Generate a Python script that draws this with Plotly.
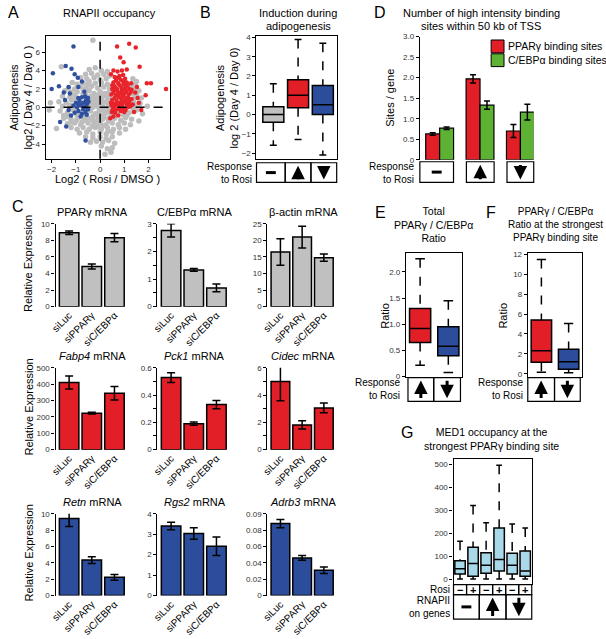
import plotly.graph_objects as go

W, H = 606, 639
FONT = 'Liberation Sans, Arial, sans-serif'
RED = '#e21f26'
BLUE = '#2c4d9c'
GRAY = '#c0c0c0'
GREEN = '#5db233'
LBLUE = '#a9d9e8'

# ---- A: RNAPII occupancy scatter ----
gray_x = [-0.45, -0.2, 0.05, 0.3, -0.6, -0.35, -0.1, 0.15, 0.38, -0.8, -0.55, -0.25, 0.0, 0.25, 1.35, -1.6, -0.3,
          -1.15, -0.95, -0.7, -0.45, -0.2, 0.05, 0.3, 1.3, 1.5, -1.3, -1.05, -0.82, -0.58, -0.35, -0.1, 0.15, 0.38, 1.38, -0.7,
          -1.45, -1.2, -0.95, -0.7, -0.45, -0.25, 0.0, 0.22, 0.4, 1.35, 1.6, -1.55, -1.25, -1.05, -0.38, -0.15, 0.1, 0.3, 1.45, 1.7, -0.6,
          -1.7, -1.4, -1.18, -0.4, -0.2, 0.05, 0.25, 0.42, 1.38, 1.65, -1.55, -1.25, -0.35, -0.12, 0.1, 0.35, 1.35, 1.55, 1.95, -2.05,
          -1.65, -1.35, -1.1, -0.4, -0.2, 0.05, 0.25, 0.45, 0.7, 0.95, 1.2, 1.5, 1.75, -2.1, -0.95, -0.6, -0.3, 0.1, 0.3, 1.1,
          -1.5, -1.2, -0.9, -0.65, -0.4, -0.15, 0.1, 0.35, 0.6, 0.85, 1.05, 1.3, 1.6, -1.35, -1.05, -0.8, -0.5, -0.25, 0.0, 0.25, 0.5, 0.75, 1.0, 1.25,
          -1.2, -0.95, -0.7, -0.45, -0.2, 0.05, 0.3, 0.55, 0.8, 1.05, -1.8, -0.85, -0.55, -0.3, 0.0, 0.25, 0.5, 0.8,
          -0.6, -0.3, 0.0, 0.25, 0.5, -0.15, 0.1, 0.35, 0.05, 0.3, 0.5, 0.2, 0.45, 0.6, -0.4,
          -1.15, -0.9, -0.6, -0.85, -1.0, -0.5, -0.3, -0.05, 0.2, 0.42, -0.1, 0.15,
          -0.05, 0.12, 0.28, -0.28, -0.48, -0.18, 0.08, 0.32, -0.4, -0.02, 0.18, 0.4, -0.3, -0.08, 0.15, 0.36,
          -0.32, -0.1, 0.12, 0.33, 1.3, 1.45, 1.32, 1.5, 1.4, 1.28, -1.35, -1.5, -1.2, -0.98, -0.75, -0.55]
gray_y = [4.1, 4.3, 4.0, 3.9, 3.6, 3.7, 3.5, 3.6, 3.4, 3.2, 3.1, 3.2, 3.0, 3.1, 3.1, 4.4, 7.3,
          2.7, 2.5, 2.6, 2.8, 2.6, 2.7, 2.5, 2.4, 2.8, 2.1, 2.0, 2.3, 2.1, 2.3, 2.1, 2.2, 2.0, 2.0, 1.9,
          1.8, 1.6, 1.7, 1.5, 1.8, 1.5, 1.7, 1.5, 1.8, 1.5, 1.8, 1.2, 1.1, 1.3, 1.2, 1.0, 1.2, 1.0, 1.2, 1.0, 1.4,
          0.6, 0.5, 0.8, 0.7, 0.5, 0.8, 0.6, 0.9, 0.7, 0.4, 0.1, 0.2, 0.2, 0.1, 0.3, 0.1, -0.1, 0.2, 0.1, 0.5,
          -0.4, -0.6, -0.3, -0.4, -0.7, -0.3, -0.6, -0.8, -0.7, -0.8, -0.6, -0.3, -0.7, -0.3, -0.9, -0.95, -1.0, -0.9, -0.2, -0.9,
          -1.2, -1.3, -1.1, -1.4, -1.2, -1.5, -1.3, -1.5, -1.2, -1.4, -1.1, -1.3, -1.5, -1.8, -1.7, -1.9, -1.7, -1.9, -1.7, -1.9, -1.7, -1.9, -1.7, -1.9,
          -2.2, -2.4, -2.2, -2.4, -2.2, -2.4, -2.2, -2.4, -2.2, -2.4, -2.3, -2.8, -2.7, -2.9, -2.7, -2.9, -2.7, -2.8,
          -3.2, -3.3, -3.2, -3.4, -3.2, -3.7, -3.8, -3.6, -4.2, -4.5, -4.4, -5.1, -4.9, -3.9, -3.8,
          -0.1, 0.4, 0.1, -0.5, 1.0, 2.5, 0.0, -0.5, -0.3, 0.3, 0.6, -0.8,
          1.35, 1.45, 1.3, 0.95, 0.35, 0.75, 0.55, 0.4, -0.05, -0.2, -0.15, -0.45, -1.45, -1.05, -1.1, -1.2,
          -2.05, -2.1, -2.0, -2.6, 2.2, 2.5, 1.7, 1.3, 0.45, 0.2, -1.0, -0.9, -1.6, -1.45, -1.6, -1.25]
red_x = [0.48, 0.55, 0.62, 0.7, 0.85, 0.95, 1.05, 1.15, 0.47, 0.58, 0.66, 0.75, 0.83, 0.92, 1.0, 1.1, 1.2, 1.25,
         0.5, 0.6, 0.68, 0.78, 0.88, 0.97, 1.06, 1.15, 1.22, 0.46, 0.55, 0.65, 0.73, 0.82, 0.9, 1.0, 1.08, 1.18, 1.25,
         0.5, 0.6, 0.7, 0.8, 0.88, 0.97, 1.05, 1.13, 1.2, 0.55, 0.65, 0.75, 0.85, 0.95, 1.03, 1.1, 0.6, 0.8, 0.95, 0.72,
         0.52, 0.8, 1.0, 0.9, 0.62, 0.5, 1.3, 1.3, 0.45, 0.7, 0.93, 1.12, 0.57, 0.77, 1.02,
         0.7, 1.2, 1.47, 0.83, 0.97, 1.63, 0.55, 0.72, 0.9, 1.1, 0.45, 1.93, 2.1, 2.72, 1.52, 1.45, 1.88, 1.6, 1.7,
         0.42, 0.55, 0.75, 1.4, 1.35, 1.28, 1.55]
red_y = [-0.5, -0.3, -0.6, -0.2, -0.4, -0.1, -0.3, 0.0, 0.2, 0.1, 0.4, 0.2, 0.5, 0.3, 0.6, 0.3, 0.5, 0.1,
         0.8, 1.0, 0.7, 1.1, 0.9, 1.2, 0.9, 1.1, 0.8, 1.4, 1.6, 1.3, 1.7, 1.5, 1.8, 1.5, 1.7, 1.4, 1.6,
         2.0, 2.3, 2.0, 2.4, 2.1, 2.5, 2.2, 2.4, 2.0, 2.7, 2.9, 2.6, 3.0, 2.8, 3.1, 2.7, 3.3, 3.4, 3.5, 3.2,
         -0.2, 0.0, -0.5, 0.7, 1.9, 2.4, 1.9, 0.9, 0.5, 0.45, 1.35, 0.6, 0.35, 1.45, 2.0,
         6.6, 6.9, 6.5, 5.4, 4.9, 4.4, 4.0, 3.9, 4.0, 4.1, 3.6, 2.6, 2.6, 2.0, 2.2, 1.6, 1.3, 0.5, -0.3,
         -1.2, -1.0, -0.9, -0.5, 0.3, 2.6, 1.0]
blue_x = [-1.05, -0.9, -0.75, -0.6, -0.5, -0.95, -0.8, -0.65, -0.55, -1.0, -0.85, -0.7, -0.58, -0.48, -0.9, -0.75,
          -0.62, -0.5, -1.1, -0.7, -0.55, -0.8, -0.62, -0.88,
          -1.1, -1.42, -1.18, -1.95, -1.05, -0.92, -0.75, -1.7, -1.3, -2.0, -1.5, -1.25, -1.45, -1.3, -1.4, -1.65,
          -0.6, -1.2, -0.65, -0.9]
blue_y = [-0.6, -0.4, -0.7, -0.5, -0.2, 0.0, 0.2, 0.0, 0.3, 0.5, 0.7, 0.5, 0.8, 0.6, 1.0, 1.1,
          1.2, 1.0, 0.2, -0.2, -0.8, -1.0, 0.55, 0.35,
          6.6, 4.5, 4.2, 3.7, 3.6, 3.2, 2.8, 2.3, 2.2, 2.0, 1.6, 1.5, 0.8, -0.3, -2.1, -1.6,
          -3.6, -0.9, 1.7, 2.2]

# ---- B: induction during adipogenesis (box stats) ----
b_q1 = [-0.4, 0.35, 0.0]
b_med = [0.0, 1.0, 0.5]
b_q3 = [0.4, 1.8, 1.5]
b_lo = [-1.6, -1.3, -2.1]
b_hi = [1.6, 3.9, 3.7]

# ---- D: binding sites per gene ----
d_pparg = [0.63, 1.97, 0.70]
d_pparg_err = [0.03, 0.10, 0.16]
d_cebpa = [0.77, 1.33, 1.16]
d_cebpa_err = [0.03, 0.10, 0.19]

# ---- C: relative expression (siLuc, siPPARγ, siC/EBPα) ----
si_labels = ['siLuc', 'siPPARγ', 'siC/EBPα']
pparg_mrna = [8.93, 4.84, 8.33]
pparg_err = [0.2, 0.3, 0.5]
cebpa_mrna = [2.76, 1.33, 0.68]
cebpa_err = [0.24, 0.05, 0.14]
actb_mrna = [16.5, 21.0, 14.8]
actb_err = [4.0, 3.3, 1.1]
fabp4_mrna = [410, 223, 345]
fabp4_err = [40, 5, 41]
pck1_mrna = [0.528, 0.19, 0.33]
pck1_err = [0.036, 0.012, 0.03]
cidec_mrna = [4.99, 1.81, 3.06]
cidec_err = [1.4, 0.3, 0.35]
retn_mrna = [9.43, 4.33, 2.23]
retn_err = [1.0, 0.4, 0.35]
rgs2_mrna = [3.4, 3.03, 2.41]
rgs2_err = [0.18, 0.28, 0.45]
adrb3_mrna = [0.088, 0.046, 0.031]
adrb3_err = [0.005, 0.003, 0.004]

# ---- E / F: ratio box stats (up, down) ----
e_q1 = [0.65, 0.4]
e_med = [0.92, 0.58]
e_q3 = [1.3, 0.95]
e_lo = [0.22, 0.08]
e_hi = [2.25, 1.45]
f_q1 = [1.15, 0.45]
f_med = [2.3, 1.2]
f_q3 = [5.4, 2.45]
f_lo = [0.15, 0.1]
f_hi = [11.5, 5.05]

# ---- G: MED1 occupancy box stats ----
g_q1 = [22, 12, 25, 35, 22, 12]
g_med = [45, 68, 60, 85, 60, 35]
g_q3 = [80, 138, 115, 222, 112, 122]
g_lo = [0, 0, 0, 0, 0, 0]
g_hi = [165, 320, 245, 495, 240, 222]
g_rosi = ['−', '+', '−', '+', '−', '+']


def xd(a, b):
    return [a / W, b / W]


def yd(top, bottom):
    return [1 - bottom / H, 1 - top / H]


def keys(n):
    s = '' if n == 1 else str(n)
    return 'xaxis' + s, 'yaxis' + s, 'x' + s, 'y' + s


fig = go.Figure()
layout = {}
annotations = []
shapes = []

BASE = dict(showgrid=False, zeroline=False, showline=True, linecolor='black', linewidth=1.2,
            ticks='outside', ticklen=3, tickwidth=1, tickcolor='black',
            tickfont=dict(size=8, color='#333', family=FONT))


def axes(n, xdom, ydom, xa, ya):
    xk, yk, xr, yr = keys(n)
    layout[xk] = {**BASE, 'domain': xdom, 'anchor': yr, **xa}
    layout[yk] = {**BASE, 'domain': ydom, 'anchor': xr, **ya}
    return xr, yr


def text(x, y, s, size=11, xanchor='center', yanchor='middle', angle=0, align='center'):
    annotations.append(dict(x=x / W, y=1 - y / H, xref='paper', yref='paper', text=s, showarrow=False,
                            font=dict(size=size, family=FONT, color='black'), xanchor=xanchor,
                            yanchor=yanchor, textangle=angle, align=align))


def rect(x0, y0, x1, y1):
    shapes.append(dict(type='rect', xref='paper', yref='paper', x0=x0 / W, x1=x1 / W,
                       y0=1 - y1 / H, y1=1 - y0 / H, line=dict(color='black', width=1.2)))


def symbol(kind, x0, x1, top, bottom):
    cx = (x0 + x1) / 2
    cy = (top + bottom) / 2
    if kind == '-':
        shapes.append(dict(type='line', xref='paper', yref='paper', x0=(cx - 5) / W, x1=(cx + 5) / W,
                           y0=1 - cy / H, y1=1 - cy / H, line=dict(color='black', width=3)))
    else:
        h = bottom - top
        if kind == 'up':
            hy, ay = top + 3, h - 5
        else:
            hy, ay = bottom - 3, -(h - 5)
        annotations.append(dict(x=cx / W, y=1 - hy / H, xref='paper', yref='paper', text='',
                                showarrow=True, ax=0, ay=ay, arrowhead=2, arrowsize=0.9,
                                arrowwidth=3, arrowcolor='black'))


def cells(xs, top, bottom, kinds):
    for (a, b), k in zip(xs, kinds):
        rect(a, top, b, bottom)
        symbol(k, a, b, top, bottom)


def box(xr, yr, pos, q1, med, q3, lo, hi, color, width, cap):
    fig.add_trace(go.Box(x=[pos], q1=[q1], median=[med], q3=[q3], lowerfence=[q1], upperfence=[q3],
                         fillcolor=color, line=dict(color='black', width=1.5), width=width,
                         xaxis=xr, yaxis=yr, showlegend=False, hoverinfo='skip'))
    fig.add_trace(go.Scatter(x=[pos, pos, None, pos, pos], y=[hi, q3, None, q1, lo], mode='lines',
                             line=dict(color='black', width=1.5, dash='dash'),
                             xaxis=xr, yaxis=yr, showlegend=False, hoverinfo='skip'))
    fig.add_trace(go.Scatter(x=[pos - cap, pos + cap, None, pos - cap, pos + cap], y=[hi, hi, None, lo, lo],
                             mode='lines', line=dict(color='black', width=1.5),
                             xaxis=xr, yaxis=yr, showlegend=False, hoverinfo='skip'))


# ---------------- A ----------------
xr, yr = axes(1, xd(40, 166), yd(32, 157),
              dict(range=[-2.25, 2.9], tickvals=[-2, -1, 0, 1, 2], mirror=True),
              dict(range=[-5.6, 7.8], tickvals=[-4, -2, 0, 2, 4, 6], mirror=True))
for xs, ys, col, sz in [(gray_x, gray_y, '#bdbdbd', 5.5), (red_x, red_y, '#e8232a', 4.5), (blue_x, blue_y, '#2f4f9f', 4.5)]:
    fig.add_trace(go.Scatter(x=xs, y=ys, mode='markers', marker=dict(color=col, size=sz, line=dict(width=0)),
                             xaxis=xr, yaxis=yr, showlegend=False, hoverinfo='skip'))
shapes.append(dict(type='line', xref=xr, yref=yr + ' domain', x0=0, x1=0, y0=0, y1=1,
                   line=dict(color='black', width=1.5, dash='dash')))
shapes.append(dict(type='line', xref=xr + ' domain', yref=yr, x0=0, x1=1, y0=0, y1=0,
                   line=dict(color='black', width=1.5, dash='dash')))
text(8, 9, 'A', size=16)
text(105, 9, 'RNAPII occupancy', size=11)
text(103, 177, 'Log2 ( Rosi / DMSO )', size=11)
text(15, 95, 'Adipogenesis<br>log2 ( Day 4 / Day 0 )', size=11, angle=-90)

# ---------------- B ----------------
xr, yr = axes(2, xd(253, 334), yd(32, 157),
              dict(range=[-0.68, 2.56], showticklabels=False, ticks='', mirror=True),
              dict(range=[-2.3, 4.1], tickvals=[-2, -1, 0, 1, 2, 3, 4], mirror=True))
for i, col in enumerate([GRAY, RED, BLUE]):
    box(xr, yr, i, b_q1[i], b_med[i], b_q3[i], b_lo[i], b_hi[i], col, 0.85, 0.14)
text(201, 9, 'B', size=16)
text(295, 9, 'Induction during', size=11)
text(295, 22, 'adipogenesis', size=11)
text(223, 95, 'Adipogenesis<br>log 2 (Day 4 / Day 0)', size=11, angle=-90)
cells([(253, 282), (282, 308), (308, 334)], 161, 181, ['-', 'up', 'down'])
text(250, 171, 'Response<br>to Rosi', size=10, xanchor='right', align='right')

# ---------------- D ----------------
xr, yr = axes(3, xd(418, 533), yd(33, 158),
              dict(range=[-0.49, 2.33], showline=False, showticklabels=False, ticks=''),
              dict(range=[0, 3], tickvals=[0, 0.5, 1, 1.5, 2, 2.5, 3],
                   ticktext=['0', '0.5', '1.0', '1.5', '2.0', '2.5', '3.0']))
for vals, errs, col, name in [(d_pparg, d_pparg_err, RED, 'PPARγ binding sites'),
                              (d_cebpa, d_cebpa_err, GREEN, 'C/EBPα binding sites')]:
    fig.add_trace(go.Bar(x=[0, 1, 2], y=vals, name=name, marker=dict(color=col, line=dict(color='black', width=1.2)),
                         error_y=dict(type='data', array=errs, color='black', thickness=1.5, width=3),
                         xaxis=xr, yaxis=yr, showlegend=False, hoverinfo='skip'))
text(378, 9, 'D', size=16)
text(480, 9, 'Number of high intensity binding', size=11)
text(480, 22, 'sites within 50 kb of TSS', size=11)
text(388, 95, 'Sites / gene', size=11, angle=-90)
for i, (col, name) in enumerate([(RED, 'PPARγ binding sites'), (GREEN, 'C/EBPα binding sites')]):
    yy = 43 + i * 14
    shapes.append(dict(type='rect', xref='paper', yref='paper', x0=490 / W, x1=503 / W,
                       y0=1 - (yy + 6.5) / H, y1=1 - (yy - 6.5) / H, fillcolor=col,
                       line=dict(color='black', width=1)))
    text(505, yy, name, size=10.5, xanchor='left')
cells([(418, 452), (465, 493), (506, 533)], 160, 181, ['-', 'up', 'down'])
text(414, 171, 'Response<br>to Rosi', size=10, xanchor='right', align='right')

# ---------------- C ----------------
c_panels = [
    ('PPARγ mRNA', GRAY, pparg_mrna, pparg_err, [0, 10], [0, 2, 4, 6, 8, 10], None),
    ('C/EBPα mRNA', GRAY, cebpa_mrna, cebpa_err, [0, 3], [0, 0.5, 1, 1.5, 2, 2.5, 3], ['0', '', '1', '', '2', '', '3']),
    ('β-actin mRNA', GRAY, actb_mrna, actb_err, [0, 25], [0, 5, 10, 15, 20, 25], None),
    ('<i>Fabp4</i> mRNA', RED, fabp4_mrna, fabp4_err, [0, 500], [0, 100, 200, 300, 400, 500], None),
    ('<i>Pck1</i> mRNA', RED, pck1_mrna, pck1_err, [0, 0.6], [0, 0.1, 0.2, 0.3, 0.4, 0.5, 0.6], ['0', '', '0.2', '', '0.4', '', '0.6']),
    ('<i>Cidec</i> mRNA', RED, cidec_mrna, cidec_err, [0, 6], [0, 1, 2, 3, 4, 5, 6], ['0', '', '2', '', '4', '', '6']),
    ('<i>Retn</i> mRNA', BLUE, retn_mrna, retn_err, [0, 10], [0, 2, 4, 6, 8, 10], None),
    ('<i>Rgs2</i> mRNA', BLUE, rgs2_mrna, rgs2_err, [0, 4], [0, 1, 2, 3, 4], None),
    ('<i>Adrb3</i> mRNA', BLUE, adrb3_mrna, adrb3_err, [0, 0.1], [0, 0.02, 0.04, 0.06, 0.08, 0.1],
     ['0', '0.02', '0.04', '0.06', '0.08', '0.09']),
]
cols_px = [(50, 121), (153, 224), (264, 332)]
rows_px = [(223, 307), (369, 452), (517, 600)]
for k, (title, col, vals, errs, rng, tv, tt) in enumerate(c_panels):
    r, c = divmod(k, 3)
    x0, x1 = cols_px[c]
    top, bot = rows_px[r]
    ya = dict(range=rng, tickvals=tv)
    if tt:
        ya['ticktext'] = tt
    xr, yr = axes(4 + k, xd(x0, x1), yd(top, bot),
                  dict(range=[-0.6, 2.5], showline=False, ticks='', tickvals=[0, 1, 2], ticktext=si_labels,
                       tickangle=-45, tickfont=dict(size=10, color='black', family=FONT)),
                  ya)
    fig.add_trace(go.Bar(x=[0, 1, 2], y=vals, width=0.86,
                         marker=dict(color=col, line=dict(color='black', width=1.5)),
                         error_y=dict(type='data', array=errs, color='black', thickness=1.5, width=4),
                         xaxis=xr, yaxis=yr, showlegend=False, hoverinfo='skip'))
    text((x0 + x1) / 2 + 2, top - 12, title, size=11)
    if c == 0:
        text(23, (top + bot) / 2 - 2, 'Relative Expression', size=11, angle=-90)
text(12, 205, 'C', size=16)

# ---------------- E ----------------
xr, yr = axes(13, xd(404, 461), yd(253, 378),
              dict(range=[-0.5, 1.5], showticklabels=False, ticks='', mirror=True),
              dict(range=[0, 2.35], tickvals=[0, 0.5, 1, 1.5, 2], ticktext=['0', '0.5', '1.0', '1.5', '2.0'],
                   mirror=True))
for i, col in enumerate([RED, BLUE]):
    box(xr, yr, i, e_q1[i], e_med[i], e_q3[i], e_lo[i], e_hi[i], col, 0.75, 0.17)
text(378, 211, 'E', size=16)
text(432, 224, 'Total<br>PPARγ / C/EBPα<br>Ratio', size=10.5)
text(382, 316, 'Ratio', size=11, angle=-90)
cells([(406, 432), (432, 459)], 379, 403, ['up', 'down'])
text(400, 391, 'Response<br>to Rosi', size=10, xanchor='right', align='right')

# ---------------- F ----------------
xr, yr = axes(14, xd(527, 582), yd(253, 378),
              dict(range=[-0.5, 1.5], showticklabels=False, ticks='', mirror=True),
              dict(range=[-0.3, 12.1], tickvals=[0, 2, 4, 6, 8, 10, 12], mirror=True))
for i, col in enumerate([RED, BLUE]):
    box(xr, yr, i, f_q1[i], f_med[i], f_q3[i], f_lo[i], f_hi[i], col, 0.75, 0.17)
text(490, 211, 'F', size=16)
text(555, 224, 'PPARγ / C/EBPα<br>Ratio at the strongest<br>PPARγ binding site', size=10)
text(502, 316, 'Ratio', size=11, angle=-90)
cells([(527, 554), (554, 580)], 379, 403, ['up', 'down'])
text(524, 391, 'Response<br>to Rosi', size=10, xanchor='right', align='right')

# ---------------- G ----------------
xr, yr = axes(15, xd(452, 531), yd(462, 588),
              dict(range=[-0.5, 5.5], showticklabels=False, ticks='', mirror=True),
              dict(range=[-20, 520], tickvals=[0, 100, 200, 300, 400, 500], mirror=True))
for i in range(6):
    box(xr, yr, i, g_q1[i], g_med[i], g_q3[i], g_lo[i], g_hi[i], LBLUE, 0.8, 0.22)
text(405, 435, 'G', size=16)
text(490, 441, 'MED1 occupancy at the<br>strongest PPARγ binding site', size=10.5)
edges = [452 + i * (531 - 452) / 6 for i in range(7)]
for i, s in enumerate(g_rosi):
    rect(edges[i], 589, edges[i + 1], 599)
    text((edges[i] + edges[i + 1]) / 2, 594, '<b>' + s + '</b>', size=11)
cells([(452, 478), (478, 505), (505, 531)], 599, 624, ['-', 'up', 'down'])
text(450, 594, 'Rosi', size=10, xanchor='right')
text(450, 612, 'RNAPII<br>on genes', size=10, xanchor='right', align='right')

fig.update_layout(**layout)
fig.update_layout(width=W, height=H, margin=dict(l=0, r=0, t=0, b=0),
                  paper_bgcolor='white', plot_bgcolor='white', showlegend=False,
                  boxmode='overlay', bargap=0.31, bargroupgap=0,
                  font=dict(family=FONT, color='black'),
                  annotations=annotations, shapes=shapes)

# drop the browser's default body margin so the figure sits at the page origin
fig.write_html("out.html", config={'displayModeBar': False},
               post_script="document.body.style.margin='0';document.body.style.overflow='hidden';")
